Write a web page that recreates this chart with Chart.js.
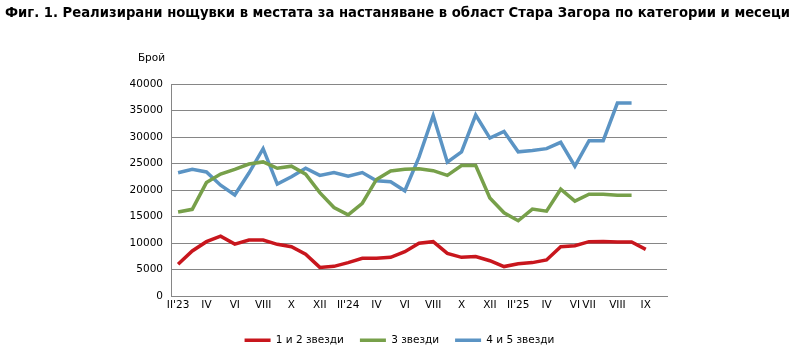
<!DOCTYPE html>
<html>
<head>
<meta charset="utf-8">
<script src="https://cdn.jsdelivr.net/npm/chart.js@4"></script>
<style>
  body { margin: 0; background: #fff; }
  canvas { display: block; }
</style>
</head>
<body>
<canvas id="chart" width="799" height="351"></canvas>
<script>
// --- data ---
const tickLabels = ["II'23", '', 'IV', '', 'VI', '', 'VIII', '', 'X', '', 'XII', '',
                    "II'24", '', 'IV', '', 'VI', '', 'VIII', '', 'X', '', 'XII', '',
                    "II'25", '', 'IV', '', 'VI', 'VII', '', 'VIII', '', 'IX', ''];

const stars12 = [6000, 8500, 10250, 11300, 9800, 10550, 10550, 9750, 9300, 7900, 5400, 5600,
                 6300, 7100, 7100, 7300, 8350, 9950, 10250, 8050, 7300, 7450, 6650, 5550,
                 6100, 6300, 6800, 9300, 9500, 10250, 10300, 10200, 10200, 8800];

const stars3 = [15850, 16350, 21400, 23000, 23900, 24900, 25300, 24100, 24500, 23000, 19500, 16700,
                15300, 17500, 22000, 23600, 23900, 24000, 23650, 22750, 24600, 24600, 18500, 15700,
                14200, 16400, 16000, 20150, 17900, 19200, 19200, 19000, 19000];

const stars45 = [23250, 23900, 23400, 20900, 19050, 23200, 27800, 21100, 22500, 24100, 22750, 23300,
                 22600, 23300, 21750, 21550, 19850, 26200, 34000, 25250, 27200, 34150, 29800, 31050,
                 27200, 27450, 27800, 29000, 24500, 29300, 29300, 36400, 36400];

const seriesNames = ['1 и 2 звезди', '3 звезди', '4 и 5 звезди'];
const seriesColors = ['#c8161d', '#77a04a', '#5b94c4'];

const titleText = 'Фиг. 1. Реализирани нощувки в местата за настаняване в област Стара Загора по категории и месеци';
const baseFont = 'DejaVu Sans, Verdana, sans-serif';

// title (fitted to the reference width) and the horizontal "Брой" label
const extraText = {
    id: 'extraText',
    afterDraw(chart) {
        const ctx = chart.ctx;
        ctx.save();
        ctx.fillStyle = '#000';
        ctx.textBaseline = 'middle';

        ctx.font = 'bold 14px ' + baseFont;
        const size = 14 * 785 / ctx.measureText(titleText).width;
        ctx.font = 'bold ' + size.toFixed(2) + 'px ' + baseFont;
        ctx.textAlign = 'left';
        ctx.fillText(titleText, 5, 14);

        ctx.font = '10.5px ' + baseFont;
        ctx.textAlign = 'right';
        ctx.fillText('Брой', chart.chartArea.left - 6, 58);
        ctx.restore();
    }
};

new Chart(document.getElementById('chart'), {
    type: 'line',
    data: {
        labels: tickLabels,
        datasets: [stars12, stars3, stars45].map((d, i) => ({
            label: seriesNames[i],
            data: d,
            borderColor: seriesColors[i],
            backgroundColor: seriesColors[i],
            borderWidth: 3.5,
            pointRadius: 0,
            pointStyle: 'line',
            tension: 0,
            fill: false
        }))
    },
    options: {
        responsive: false,
        animation: false,
        layout: { padding: { left: 0, right: 0, top: 84, bottom: -4.5 } },
        plugins: {
            title: { display: false },
            legend: {
                position: 'bottom',
                labels: {
                    color: '#000',
                    font: { family: baseFont, size: 10.5 },
                    usePointStyle: true,
                    pointStyleWidth: 26,
                    padding: 16
                }
            },
            tooltip: { enabled: false }
        },
        scales: {
            x: {
                offset: true,
                grid: { display: false, drawTicks: false },
                border: { color: '#868686' },
                ticks: {
                    autoSkip: false,
                    maxRotation: 0,
                    padding: 3,
                    color: '#000',
                    font: { family: baseFont, size: 10.5 }
                },
                afterFit(scale) { scale.height = 23; }
            },
            y: {
                min: 0,
                max: 40000,
                grid: { color: '#868686', drawTicks: false },
                border: { color: '#868686' },
                ticks: {
                    stepSize: 5000,
                    padding: 8,
                    color: '#000',
                    font: { family: baseFont, size: 10.5 },
                    callback: v => v
                },
                afterFit(scale) { scale.width = 171; }
            },
            // empty right-hand axis that only reserves the blank margin
            spacer: {
                position: 'right',
                min: 0,
                max: 1,
                grid: { display: false, drawTicks: false },
                border: { display: false },
                ticks: { display: false },
                afterFit(scale) { scale.width = 132; }
            }
        }
    },
    plugins: [extraText]
});
</script>
</body>
</html>
